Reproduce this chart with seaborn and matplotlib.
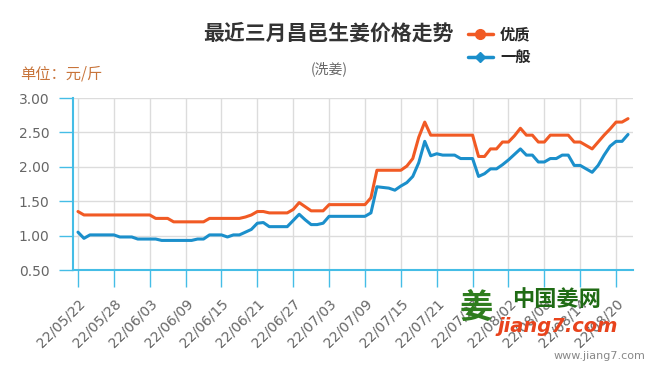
import pandas as pd
import numpy as np
import matplotlib.pyplot as plt
import seaborn as sns
from matplotlib.lines import Line2D
from matplotlib.ticker import FormatStrFormatter

# ========== 1. 字体 ==========
sns.set_theme(style='white')
plt.rcParams['font.family'] = ['Noto Sans CJK SC', 'DejaVu Sans']

# ========== 2. 数据（从图上读取，2022-05-22 起逐日） ==========
start_date = '2022-05-22'
premium = [
    1.35, 1.30, 1.30, 1.30, 1.30, 1.30, 1.30, 1.30, 1.30, 1.30,
    1.30, 1.30, 1.30, 1.25, 1.25, 1.25, 1.20, 1.20, 1.20, 1.20,
    1.20, 1.20, 1.25, 1.25, 1.25, 1.25, 1.25, 1.25, 1.27, 1.30,
    1.35, 1.35, 1.33, 1.33, 1.33, 1.33, 1.38, 1.48, 1.42, 1.36,
    1.36, 1.36, 1.45, 1.45, 1.45, 1.45, 1.45, 1.45, 1.45, 1.55,
    1.95, 1.95, 1.95, 1.95, 1.95, 2.01, 2.12, 2.43, 2.65, 2.46,
    2.46, 2.46, 2.46, 2.46, 2.46, 2.46, 2.46, 2.15, 2.15, 2.26,
    2.26, 2.36, 2.36, 2.45, 2.56, 2.46, 2.46, 2.36, 2.36, 2.46,
    2.46, 2.46, 2.46, 2.36, 2.36, 2.31, 2.26, 2.36, 2.46, 2.55,
    2.65, 2.65, 2.70,
]
ordinary = [
    1.05, 0.96, 1.01, 1.01, 1.01, 1.01, 1.01, 0.98, 0.98, 0.98,
    0.95, 0.95, 0.95, 0.95, 0.93, 0.93, 0.93, 0.93, 0.93, 0.93,
    0.95, 0.95, 1.01, 1.01, 1.01, 0.98, 1.01, 1.01, 1.05, 1.09,
    1.18, 1.19, 1.13, 1.13, 1.13, 1.13, 1.22, 1.31, 1.23, 1.16,
    1.16, 1.18, 1.28, 1.28, 1.28, 1.28, 1.28, 1.28, 1.28, 1.33,
    1.71, 1.70, 1.69, 1.66, 1.72, 1.77, 1.86, 2.06, 2.37, 2.16,
    2.19, 2.17, 2.17, 2.17, 2.12, 2.12, 2.12, 1.86, 1.90, 1.97,
    1.97, 2.03, 2.10, 2.18, 2.26, 2.17, 2.17, 2.07, 2.07, 2.12,
    2.12, 2.17, 2.17, 2.02, 2.02, 1.97, 1.92, 2.02, 2.17, 2.30,
    2.37, 2.37, 2.47,
]
series_names = ['优质', '一般']
y_ticks = [0.50, 1.00, 1.50, 2.00, 2.50, 3.00]

ORANGE = '#f15a24'
BLUE = '#1b8fcb'
AXIS_BLUE = '#45bde6'

dates = pd.date_range(start_date, periods=len(premium), freq='D')
df = pd.DataFrame({'日期': dates, '优质': premium, '一般': ordinary})
df_long = df.melt(id_vars='日期', var_name='等级', value_name='价格')

# ========== 3. 绘图 ==========
W, H = 650, 376
fig = plt.figure(figsize=(W / 100, H / 100), dpi=100)
ax = fig.add_axes([73 / W, 1 - 270 / H, (633 - 73) / W, (270 - 98) / H])

sns.lineplot(data=df_long, x='日期', y='价格', hue='等级', hue_order=series_names,
             palette={'优质': ORANGE, '一般': BLUE}, linewidth=2.2,
             legend=False, ax=ax)

ax.set_xlim(dates[0] - pd.Timedelta(hours=20), dates[-1] + pd.Timedelta(hours=20))
ax.set_ylim(0.5, 3.0)
ax.set_xlabel('')
ax.set_ylabel('')

tick_dates = dates[::6]
ax.set_xticks(tick_dates)
ax.set_xticklabels([d.strftime('%y/%m/%d') for d in tick_dates], rotation=45,
                   ha='right', rotation_mode='anchor', family='DejaVu Sans')
ax.set_yticks(y_ticks)
ax.yaxis.set_major_formatter(FormatStrFormatter('%.2f'))
for lab in ax.get_yticklabels():
    lab.set_family('DejaVu Sans')

ax.tick_params(axis='x', bottom=True, direction='out', length=12, width=1,
               color=AXIS_BLUE, labelsize=10, labelcolor='#666666', pad=7)
ax.tick_params(axis='y', left=True, direction='out', length=10, width=1,
               color=AXIS_BLUE, labelsize=10, labelcolor='#666666', pad=7)
ax.grid(True, color='#dcdcdc', linewidth=1)
for side in ['top', 'right']:
    ax.spines[side].set_visible(False)
for side in ['left', 'bottom']:
    ax.spines[side].set_color(AXIS_BLUE)
    ax.spines[side].set_linewidth(1.5)

# ========== 4. 文字 ==========
fig.text(328 / W, 1 - 33 / H, '最近三月昌邑生姜价格走势', ha='center', va='center',
         fontsize=15, fontweight='bold', color='#333333')
fig.text(329 / W, 1 - 69 / H, '(洗姜)', ha='center', va='center',
         fontsize=10, color='#666666')
fig.text(20 / W, 1 - 74 / H, '单位：元/斤', ha='left', va='center',
         fontsize=11, color='#c8743a')

handles = [Line2D([0], [0], color=ORANGE, lw=2.5, marker='o', ms=7),
           Line2D([0], [0], color=BLUE, lw=2.5, marker='D', ms=5.5)]
fig.legend(handles, series_names, loc='upper left',
           bbox_to_anchor=(462 / W, 1 - 20 / H), frameon=False,
           prop={'size': 11, 'weight': 'bold'}, handlelength=1.6,
           labelspacing=0.45, handletextpad=0.5, borderaxespad=0)

# 水印
fig.text(476 / W, 1 - 308 / H, '姜', ha='center', va='center', fontsize=24,
         fontweight='bold', color='#2e7d1e', zorder=5)
fig.text(557 / W, 1 - 300 / H, '中国姜网', ha='center', va='center', fontsize=16,
         fontweight='bold', color='#1f6b14', zorder=5)
fig.text(558 / W, 1 - 327 / H, 'jiang7.com', ha='center', va='center', fontsize=14,
         fontweight='bold', style='italic', color='#e8431c', zorder=5,
         family='DejaVu Sans')
fig.text(645 / W, 1 - 356 / H, 'www.jiang7.com', ha='right', va='center',
         fontsize=8, color='#888888', family='DejaVu Sans')

fig.savefig('out.png', dpi=100)
